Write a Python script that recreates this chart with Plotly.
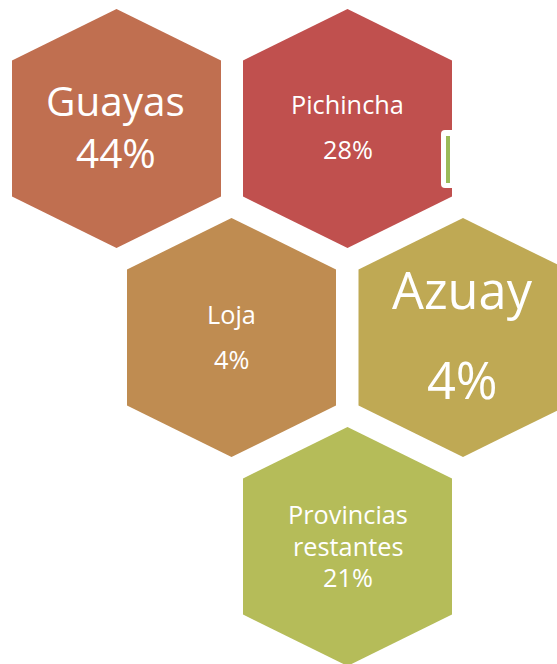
import plotly.graph_objects as go

# ---- data ----
provinces = ["Guayas", "Pichincha", "Loja", "Azuay", "Provincias restantes"]
shares = [44, 28, 4, 4, 21]
label_lines = [["Guayas"], ["Pichincha"], ["Loja"], ["Azuay"], ["Provincias", "restantes"]]

# ---- layout / style (pixel coordinates) ----
W, H = 557, 664
centers = [(116.5, 128.5), (347.5, 128.5), (231.5, 337.5), (463.0, 337.5), (347.5, 546.5)]
HW, HH, SH = 104.5, 119.5, 68.0  # half width, half height, shoulder offset
colors = ["#C06F50", "#C0504E", "#BF8C51", "#BFA954", "#B5BC59"]
font_sizes = [40.5, 25.3, 25.3, 50.5, 25.3]
# baselines of each text line (label lines then percent line)
baselines = [[115, 167], [113, 158], [323, 368], [308, 398], [523, 555, 586]]
text_x = [115.5, 347.5, 231.5, 462.5, 348.0]
FONT = "Open Sans"

fig = go.Figure()

for (cx, cy), col in zip(centers, colors):
    xs = [cx, cx + HW, cx + HW, cx, cx - HW, cx - HW, cx]
    ys = [cy - HH, cy - SH, cy + SH, cy + HH, cy + SH, cy - SH, cy - HH]
    fig.add_trace(go.Scatter(x=xs, y=ys, mode="lines", fill="toself",
                             fillcolor=col, line=dict(width=0, color=col),
                             hoverinfo="skip", showlegend=False))

annotations = []
for i, name in enumerate(provinces):
    lines = label_lines[i] + [f"{shares[i]}%"]
    fs = font_sizes[i]
    for txt, bl in zip(lines, baselines[i]):
        annotations.append(dict(x=text_x[i], y=bl - 0.37 * fs, xref="x", yref="y",
                                text=txt, showarrow=False, xanchor="center", yanchor="middle",
                                font=dict(family=FONT, size=fs, color="#FFFFFF")))

# small decoration on the right edge of Pichincha hexagon
shapes = [
    dict(type="path", xref="x", yref="y",
         path="M 445,130 L 456,130 L 456,188 L 445,188 Q 441,188 441,184 L 441,134 Q 441,130 445,130 Z",
         fillcolor="#FFFFFF", line=dict(width=0)),
    dict(type="rect", xref="x", yref="y", x0=446, x1=450, y0=136, y1=183,
         fillcolor="#9BBB59", line=dict(width=0)),
]

fig.update_layout(
    width=W, height=H, margin=dict(l=0, r=0, t=0, b=0),
    paper_bgcolor="#FFFFFF", plot_bgcolor="#FFFFFF",
    xaxis=dict(range=[0, W], visible=False, fixedrange=True),
    yaxis=dict(range=[H, 0], visible=False, fixedrange=True),
    annotations=annotations, shapes=shapes, showlegend=False,
)

fig.write_html("out.html", config={"displayModeBar": False},
               post_script="document.body.style.margin='0';document.body.style.overflow='hidden';")
